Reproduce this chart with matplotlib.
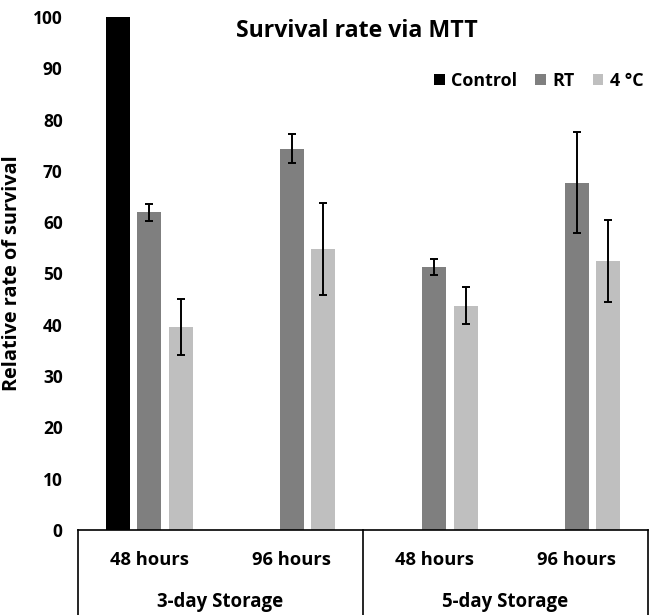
import numpy as np
import matplotlib
matplotlib.use("Agg")
import matplotlib.pyplot as plt

# ---- data ----
time_labels = ["48 hours", "96 hours", "48 hours", "96 hours"]
storage_labels = ["3-day Storage", "5-day Storage"]
series_names = ["Control", "RT", "4 °C"]
control_vals = [100, np.nan, np.nan, np.nan]
control_err = [0.15, np.nan, np.nan, np.nan]
rt_vals = [61.9, 74.3, 51.3, 67.7]
rt_err = [1.7, 2.8, 1.5, 9.8]
cold_vals = [39.6, 54.8, 43.7, 52.4]
cold_err = [5.4, 9.0, 3.6, 8.0]
colors = ["#000000", "#7f7f7f", "#bfbfbf"]

plt.rcParams['font.family'] = ['Open Sans', 'DejaVu Sans']
plt.rcParams['font.weight'] = 'bold'

W, H = 651, 615
fig = plt.figure(figsize=(W / 100, H / 100), dpi=100)
L, R, T, B = 78, 648, 17, 530
ax = fig.add_axes([L / W, 1 - B / H, (R - L) / W, (B - T) / H])

x = np.arange(len(time_labels))
slot = 0.221
bw = 0.168
all_vals = [control_vals, rt_vals, cold_vals]
all_err = [control_err, rt_err, cold_err]
for i, (v, e, c, n) in enumerate(zip(all_vals, all_err, colors, series_names)):
    pos = x + (i - 1) * slot
    ax.bar(pos, v, width=bw, color=c, label=n, zorder=2)
    ax.errorbar(pos, v, yerr=e, fmt='none', ecolor='black', elinewidth=1.4,
                capsize=3, capthick=1.4, zorder=3)

ax.set_xlim(-0.5, len(time_labels) - 0.5)
ax.set_ylim(0, 100)
ax.set_yticks(np.arange(0, 101, 10))
ax.tick_params(axis='y', length=0, labelsize=12.5, pad=11)
for lbl in ax.get_yticklabels():
    lbl.set_fontweight('bold')
ax.set_xticks([])
for s in ['top', 'right', 'left']:
    ax.spines[s].set_visible(False)
ax.spines['bottom'].set_linewidth(1.2)

ax.set_ylabel("Relative rate of survival", fontsize=14.3, fontweight='bold')
ax.yaxis.set_label_coords((22 - L) / (R - L), 0.5)

# multi-level category axis
trans = ax.get_xaxis_transform()
hpx = B - T
for xb in [-0.5, 1.5, 3.5]:
    ax.plot([xb, xb], [0, -(H - B + 2) / hpx], transform=trans, color='black',
            lw=1.2, clip_on=False)
for xi, t in zip(x, time_labels):
    ax.text(xi, -30 / hpx, t, transform=trans, ha='center', va='center',
            fontsize=13.2, fontweight='bold')
for k, s in enumerate(storage_labels):
    ax.text(2 * k + 0.5, -72 / hpx, s, transform=trans, ha='center', va='center',
            fontsize=13.4, fontweight='bold')

fig.text(357 / W, 1 - 31 / H, "Survival rate via MTT", ha='center', va='center',
         fontsize=16.7, fontweight='bold')

leg = ax.legend(loc='center right', bbox_to_anchor=(1.02, 1 - (81 - T) / hpx),
                ncol=3, frameon=False, handlelength=0.6, handleheight=0.6,
                handletextpad=0.35, columnspacing=1.0, prop={'size': 12.9, 'weight': 'bold'})

fig.savefig("out.png", dpi=100)
